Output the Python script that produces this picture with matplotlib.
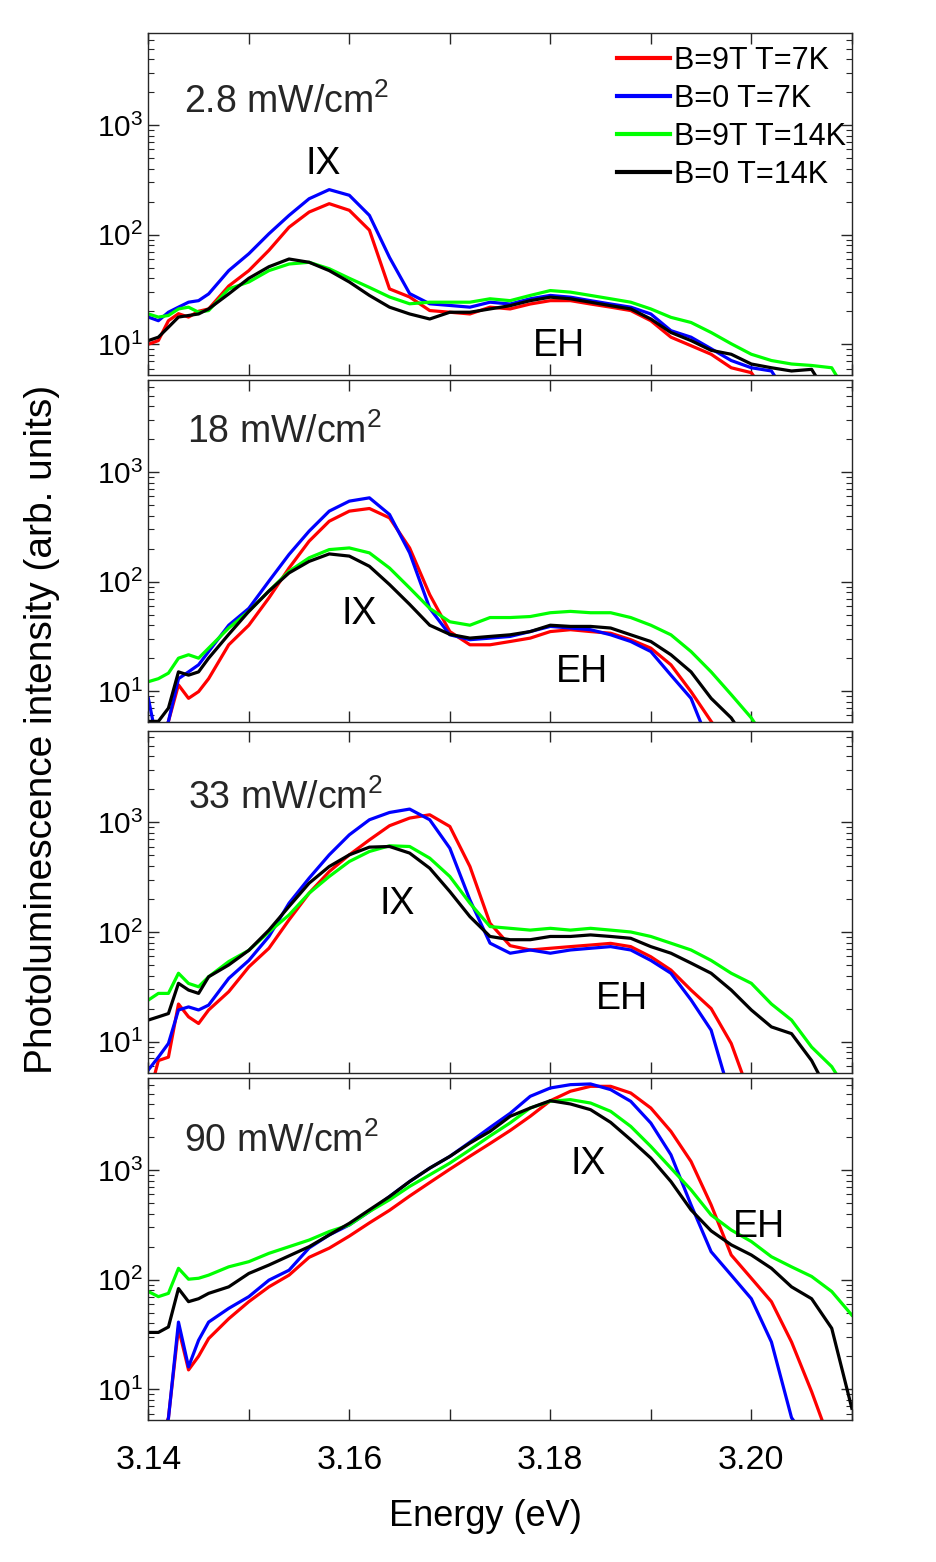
import numpy as np
import matplotlib
matplotlib.use("Agg")
import matplotlib.pyplot as plt
from matplotlib.ticker import LogLocator, NullFormatter

plt.rcParams['font.family'] = ['Liberation Sans', 'DejaVu Sans']
plt.rcParams['mathtext.fontset'] = 'custom'
plt.rcParams['mathtext.rm'] = 'Liberation Sans'
plt.rcParams['mathtext.default'] = 'regular'

# photon energy (eV)
energy = [3.140, 3.141, 3.142, 3.143, 3.144, 3.145, 3.146, 3.148, 3.150, 3.152,
          3.154, 3.156, 3.158, 3.160, 3.162, 3.164, 3.166, 3.168, 3.170, 3.172,
          3.174, 3.176, 3.178, 3.180, 3.182, 3.184, 3.186, 3.188, 3.190, 3.192,
          3.194, 3.196, 3.198, 3.200, 3.202, 3.204, 3.206, 3.208, 3.210]

# 2.8 mW/cm2
p1_b9_t7 = [10, 10.8, 16.4, 19, 17.7, 20, 21, 34, 47, 72, 117, 161, 192, 167, 110, 32, 27, 20.3, 19.6, 18.9,
            21.8, 21, 23.3, 25, 25, 23.3, 21.8, 20.3, 16.4, 11.6, 9.7, 8.1, 6.1, 5.5, 3, 3, 3, 3, 3]
p1_b0_t7 = [17.7, 16.4, 19.6, 21.8, 24.2, 25, 28.8, 47, 67, 102, 150, 213, 258, 229, 150, 62, 29, 23.4, 22.6, 21.8,
            24.2, 23.3, 26, 27.9, 26.9, 25, 23.3, 21.8, 18.9, 13.3, 11.6, 9.1, 7.1, 6.1, 5.7, 3, 3, 3, 3]
p1_b9_t14 = [18.9, 17.7, 18.3, 21, 21.8, 19.6, 20.3, 32, 37, 47, 54, 56, 48.9, 40, 33, 27, 23.4, 24.2, 24.2, 24.2,
             26, 25, 27.9, 30.9, 29.9, 27.9, 26, 24.2, 21, 17.6, 15.8, 12.8, 10.1, 8.1, 7.1, 6.6, 6.4, 6.1, 3]
p1_b0_t14 = [10.8, 11.6, 14.3, 17.7, 18.3, 18.9, 21, 28.8, 40, 51, 60, 56, 47, 37, 27.9, 21.8, 18.9, 17, 19.6, 19.6,
             21, 22.5, 25, 26.9, 26, 24.2, 22.5, 21, 17, 12.8, 10.8, 8.8, 8.1, 6.6, 6.1, 5.7, 5.9, 3, 3]

# 18 mW/cm2
p2_b9_t7 = [3, 3, 5.3, 11.4, 8.6, 9.9, 13, 26.5, 40, 71, 133, 234, 356, 440, 465, 382, 203, 76, 35, 26.5,
            26.5, 28.4, 30.5, 35, 36.4, 35, 33.8, 29.5, 24.7, 17.4, 9.9, 5.3, 3, 3, 3, 3, 3, 3, 3]
p2_b0_t7 = [8.6, 3, 5.3, 13, 15, 17.4, 23, 40, 57, 101, 177, 289, 440, 543, 582, 410, 183, 57, 32.7, 29.5,
            30.5, 31.6, 35, 39, 37.7, 36.4, 32.7, 28.4, 23, 14, 8.6, 3, 3, 3, 3, 3, 3, 3, 3]
p2_b9_t14 = [12.2, 13, 14.6, 20, 21.5, 20, 24.7, 37.7, 53.5, 82, 124, 165, 196, 203, 183, 133, 87.5, 57, 43, 40,
             47, 47, 48, 52, 53.5, 52, 52, 47, 40, 32.7, 23, 15, 9.3, 5.7, 3, 3, 3, 3, 3]
p2_b0_t14 = [5.3, 5.3, 7, 15, 14, 15, 20, 33, 53.5, 82, 120, 153, 179, 171, 138, 94, 62, 40, 33, 30.5,
             31.6, 32.7, 35, 40, 39, 39, 37.7, 32.7, 28.4, 21.5, 15, 8.6, 5.7, 3, 3, 3, 3, 3, 3]

# 33 mW/cm2
p3_b9_t7 = [3, 6.7, 7.2, 22, 16.8, 14.6, 19.4, 28.5, 48, 71, 129, 226, 356, 506, 693, 933, 1096, 1175, 919, 396,
            120, 75, 68.5, 71, 73.5, 76, 78.7, 73.5, 59.4, 44.9, 29.5, 20, 9.6, 3, 3, 3, 3, 3, 3]
p3_b0_t7 = [5.5, 7.2, 9.6, 19.4, 20.7, 19.4, 21.5, 37.7, 55, 91, 183, 310, 506, 771, 1058, 1233, 1324, 1058, 582, 196,
            79, 64, 68.5, 64, 68.5, 71, 73.5, 68.5, 55, 42, 24, 12.7, 3, 3, 3, 3, 3, 3, 3]
p3_b9_t14 = [23.9, 27.5, 27.5, 42, 33.9, 31.6, 39, 53.7, 68, 100, 143, 226, 321, 440, 543, 612, 603, 472, 321, 183,
             112, 108, 104, 108, 104, 108, 104, 100, 91, 79, 68.5, 55, 42, 34, 22, 15.7, 8.9, 5.9, 3]
p3_b0_t14 = [15.7, 16.8, 18, 34, 29.5, 27.5, 39, 50, 68, 104, 171, 279, 396, 506, 595, 603, 525, 382, 234, 138,
             91, 85, 85, 91, 91, 94, 91, 87.6, 73.5, 64, 52, 42, 29.5, 19.4, 13.6, 11.8, 6.7, 3, 3]

# 90 mW/cm2
p4_b9_t7 = [3, 3, 5.5, 36, 15, 20, 29, 44, 63, 86, 110, 160, 194, 250, 330, 430, 580, 770, 1020, 1340,
            1750, 2300, 3100, 4300, 5250, 5823, 5823, 5060, 3690, 2258, 1200, 482, 168, 103, 63, 27, 9.5, 3, 3]
p4_b0_t7 = [3, 3, 5.4, 41, 16, 28, 41, 54.7, 70, 99, 122, 195, 256, 316, 419, 574, 787, 1043, 1334, 1800,
            2450, 3300, 4720, 5623, 6030, 6120, 5433, 4250, 2690, 1381, 482, 180, 110, 67, 27, 5.5, 3, 3, 3]
p4_b9_t14 = [78, 70, 75, 127, 101, 103, 110, 131, 146, 174, 200, 230, 275, 316, 419, 536, 710, 906, 1159, 1534,
             2050, 2700, 3690, 4250, 4400, 4100, 3443, 2508, 1646, 1043, 661, 390, 284, 223, 162, 131, 107, 78, 47.5]
p4_b0_t14 = [33, 33, 37, 83, 63, 67, 75, 86, 114, 136, 165, 200, 256, 327, 434, 574, 787, 1043, 1334, 1766,
             2258, 3097, 3690, 4305, 4018, 3565, 2729, 1893, 1288, 787, 434, 279, 208, 168, 127, 86, 67, 36, 6.7]

powers = ['2.8', '18', '33', '90']
series_labels = ['B=9T T=7K', 'B=0 T=7K', 'B=9T T=14K', 'B=0 T=14K']
colors = ['#ff0000', '#0000ff', '#00ff00', '#000000']

spectra = [
    [p1_b9_t7, p1_b0_t7, p1_b9_t14, p1_b0_t14],
    [p2_b9_t7, p2_b0_t7, p2_b9_t14, p2_b0_t14],
    [p3_b9_t7, p3_b0_t7, p3_b9_t14, p3_b0_t14],
    [p4_b9_t7, p4_b0_t7, p4_b9_t14, p4_b0_t14],
]

# label placement
power_pos = [(0.051, 0.767), (0.055, 0.817), (0.056, 0.771), (0.051, 0.785)]
ix_pos = [(3.1574, 440), (3.1610, 50.6), (3.1648, 181.5), (3.1838, 1142)]
eh_pos = [(3.1809, 9.7), (3.1831, 14.9), (3.1871, 24.5), (3.2008, 303)]

fig = plt.figure(figsize=(9.37, 15.62), dpi=100)
bottoms = [0.7597, 0.5376, 0.3133, 0.0907]
xt = np.arange(3.14, 3.2101, 0.01)

for k in range(4):
    ax = fig.add_axes([0.1583, bottoms[k], 0.7508, 0.2190])
    for s, c, lab in zip(spectra[k], colors, series_labels):
        ax.plot(energy, s, color=c, lw=2.3, label=lab)
    ax.set_yscale('log')
    ax.set_xlim(3.14, 3.21)
    ax.set_ylim(5.2, 6900)
    ax.set_yticks([10, 100, 1000])
    ax.yaxis.set_minor_locator(LogLocator(base=10, subs=np.arange(2, 10)))
    ax.yaxis.set_minor_formatter(NullFormatter())
    ax.set_xticks(xt)
    if k == 3:
        ax.set_xticklabels(['3.14', '', '3.16', '', '3.18', '', '3.20', ''])
    else:
        ax.set_xticklabels([''] * len(xt))
    ax.tick_params(which='both', direction='in', top=True, right=True, color='0.15')
    ax.tick_params(which='major', length=8, width=1)
    ax.tick_params(which='minor', length=4, width=0.8)
    ax.tick_params(axis='y', labelsize=21.5)
    ax.tick_params(axis='x', labelsize=24.5, pad=18)
    for sp in ax.spines.values():
        sp.set_color('0.15')
        sp.set_linewidth(1)

    ax.text(power_pos[k][0], power_pos[k][1], powers[k] + ' mW/cm$^{2}$',
            transform=ax.transAxes, fontsize=27, color='#262626', ha='left', va='baseline')
    ax.text(ix_pos[k][0], ix_pos[k][1], 'IX', fontsize=27, ha='center', va='center')
    ax.text(eh_pos[k][0], eh_pos[k][1], 'EH', fontsize=27, ha='center', va='center')

    if k == 0:
        leg = ax.legend(loc='upper right', bbox_to_anchor=(0.992, 0.963), frameon=False,
                        fontsize=22, handlelength=1.73, handletextpad=0.13,
                        labelspacing=0.26, borderaxespad=0, borderpad=0)
        for h in leg.get_lines():
            h.set_linewidth(3)

fig.text(0.045, 0.533, 'Photoluminescence intensity (arb. units)', rotation=90,
         fontsize=28, ha='center', va='center')
fig.text(0.518, 0.029, 'Energy (eV)', fontsize=26, ha='center', va='center')

fig.savefig('out.png', dpi=100)
